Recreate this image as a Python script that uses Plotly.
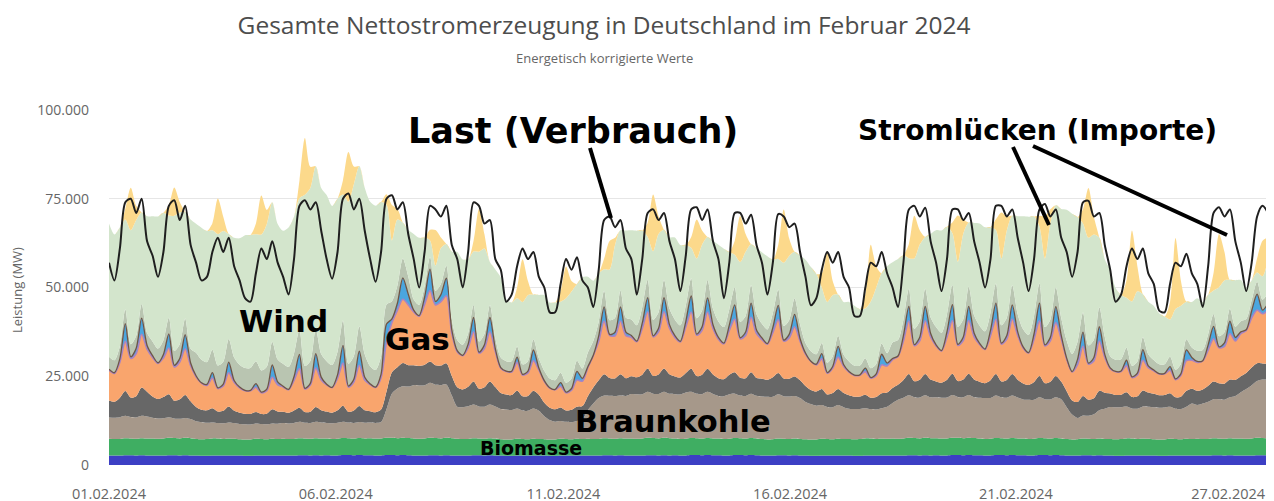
import plotly.graph_objects as go
import pandas as pd

# ---------------- data (MW, 3-hourly from 01.02.2024 00:00) ----------------
start_time = "2024-02-01 00:00"
step = "3h"

laufwasser = [
    2700, 2650, 2650, 2750, 2750, 2700, 2750, 2700,
    2700, 2650, 2650, 2750, 2750, 2700, 2750, 2700,
    2650, 2600, 2600, 2700, 2700, 2650, 2700, 2650,
    2650, 2600, 2600, 2700, 2700, 2650, 2700, 2650,
    2700, 2650, 2650, 2750, 2750, 2700, 2750, 2700,
    2750, 2700, 2700, 2800, 2800, 2750, 2800, 2750,
    2750, 2700, 2700, 2800, 2800, 2750, 2800, 2750,
    2700, 2650, 2650, 2750, 2750, 2700, 2750, 2700,
    2700, 2650, 2650, 2750, 2750, 2700, 2750, 2700,
    2650, 2600, 2600, 2700, 2700, 2650, 2700, 2650,
    2650, 2600, 2600, 2700, 2700, 2650, 2700, 2650,
    2700, 2650, 2650, 2750, 2750, 2700, 2750, 2700,
    2700, 2650, 2650, 2750, 2750, 2700, 2750, 2700,
    2750, 2700, 2700, 2800, 2800, 2750, 2800, 2750,
    2750, 2700, 2700, 2800, 2800, 2750, 2800, 2750,
    2700, 2650, 2650, 2750, 2750, 2700, 2750, 2700,
    2650, 2600, 2600, 2700, 2700, 2650, 2700, 2650,
    2650, 2600, 2600, 2700, 2700, 2650, 2700, 2650,
    2700, 2650, 2650, 2750, 2750, 2700, 2750, 2700,
    2750, 2700, 2700, 2800, 2800, 2750, 2800, 2750,
    2750, 2700, 2700, 2800, 2800, 2750, 2800, 2750,
    2750, 2700, 2700, 2800, 2800, 2750, 2800, 2750,
    2700, 2650, 2650, 2750, 2750, 2700, 2750, 2700,
    2650, 2600, 2600, 2700, 2700, 2650, 2700, 2650,
    2650, 2600, 2600, 2700, 2700, 2650, 2700, 2650,
    2700, 2650, 2650, 2750, 2750, 2700, 2750, 2700,
    2700, 2650, 2650, 2750, 2750, 2700,
]

biomasse = [
    4700, 4650, 4700, 4800, 4750, 4700, 4800, 4750,
    4800, 4750, 4800, 4900, 4850, 4800, 4900, 4850,
    4700, 4650, 4700, 4800, 4750, 4700, 4800, 4750,
    4600, 4550, 4600, 4700, 4650, 4600, 4700, 4650,
    4700, 4650, 4700, 4800, 4750, 4700, 4800, 4750,
    4700, 4650, 4700, 4800, 4750, 4700, 4800, 4750,
    4800, 4750, 4800, 4900, 4850, 4800, 4900, 4850,
    4800, 4750, 4800, 4900, 4850, 4800, 4900, 4850,
    4700, 4650, 4700, 4800, 4750, 4700, 4800, 4750,
    4600, 4550, 4600, 4700, 4650, 4600, 4700, 4650,
    4600, 4550, 4600, 4700, 4650, 4600, 4700, 4650,
    4700, 4650, 4700, 4800, 4750, 4700, 4800, 4750,
    4800, 4750, 4800, 4900, 4850, 4800, 4900, 4850,
    4700, 4650, 4700, 4800, 4750, 4700, 4800, 4750,
    4700, 4650, 4700, 4800, 4750, 4700, 4800, 4750,
    4600, 4550, 4600, 4700, 4650, 4600, 4700, 4650,
    4600, 4550, 4600, 4700, 4650, 4600, 4700, 4650,
    4700, 4650, 4700, 4800, 4750, 4700, 4800, 4750,
    4800, 4750, 4800, 4900, 4850, 4800, 4900, 4850,
    4800, 4750, 4800, 4900, 4850, 4800, 4900, 4850,
    4700, 4650, 4700, 4800, 4750, 4700, 4800, 4750,
    4700, 4650, 4700, 4800, 4750, 4700, 4800, 4750,
    4600, 4550, 4600, 4700, 4650, 4600, 4700, 4650,
    4700, 4650, 4700, 4800, 4750, 4700, 4800, 4750,
    4600, 4550, 4600, 4700, 4650, 4600, 4700, 4650,
    4700, 4650, 4700, 4800, 4750, 4700, 4800, 4750,
    4800, 4750, 4800, 4900, 4850, 4800,
]

braunkohle = [
    6000, 6000, 6100, 6300, 6000, 6000, 6300, 6200,
    5800, 5700, 5700, 5800, 5500, 5500, 5600, 5400,
    5000, 4800, 4600, 4500, 4400, 4400, 4500, 4400,
    4300, 4300, 4200, 4300, 4200, 4200, 4300, 4300,
    4400, 4400, 4500, 4600, 4400, 4400, 4600, 4500,
    4400, 4400, 4500, 4600, 4400, 4400, 4500, 4400,
    4400, 4400, 4600, 8000, 12500, 14000, 14500, 14500,
    15000, 15000, 15000, 15500, 15000, 15000, 15000, 12000,
    9000, 9000, 9200, 9500, 9000, 9000, 9500, 9000,
    8500, 8500, 8300, 8500, 8000, 8000, 8500, 8000,
    6500, 5500, 5000, 5000, 4800, 4800, 5000, 5500,
    8000, 10000, 11500, 12000, 12000, 12000, 12000, 12000,
    12500, 12500, 12500, 13000, 12500, 12500, 13000, 12500,
    12500, 12500, 13000, 13000, 12500, 12500, 13000, 12500,
    12000, 12000, 12500, 12500, 12000, 12000, 12500, 12000,
    12000, 12000, 12000, 12500, 12000, 12000, 12000, 11500,
    10500, 10000, 9500, 9500, 9000, 9000, 9500, 9000,
    8500, 8500, 8500, 8500, 8300, 8300, 8500, 9000,
    10000, 11000, 11500, 12000, 11500, 11500, 12000, 11500,
    11500, 11500, 11500, 12000, 11500, 11500, 12000, 11500,
    11500, 11500, 11500, 12000, 11500, 11500, 12000, 11500,
    11000, 11000, 11000, 11500, 11000, 11000, 11500, 11000,
    9000, 7000, 6000, 6500, 6500, 7000, 8000, 8500,
    9000, 9000, 9000, 9000, 8500, 8500, 9000, 9000,
    9000, 9000, 9000, 9000, 8500, 8500, 9000, 10000,
    9500, 10000, 10500, 11000, 11000, 11000, 11500, 12000,
    13000, 14000, 15000, 16000, 16500, 16500,
]

steinkohle = [
    4800, 4500, 5500, 7000, 5500, 6000, 8000, 7000,
    6000, 5500, 6000, 6500, 5000, 5500, 6500, 5000,
    4000, 3500, 3500, 4000, 3200, 3500, 4500, 3500,
    3200, 3000, 3000, 3200, 2800, 3000, 4000, 3500,
    3200, 3000, 3500, 4000, 3000, 3200, 4200, 3500,
    3200, 3000, 3500, 4500, 3000, 3500, 4500, 3500,
    3200, 3000, 3500, 5000, 6000, 6000, 6500, 6000,
    5600, 5500, 5800, 6000, 5500, 5500, 6000, 5500,
    5500, 5000, 5500, 6500, 5000, 5500, 6500, 5500,
    4500, 4200, 4200, 5000, 4000, 4200, 5000, 4500,
    3800, 3500, 3500, 3800, 3200, 3500, 4000, 3800,
    4000, 4500, 5000, 6000, 5000, 5000, 6000, 5000,
    5000, 4800, 5500, 6500, 5000, 5500, 6500, 5500,
    5000, 4800, 5500, 6500, 5000, 5500, 6500, 5500,
    5000, 4800, 5500, 6000, 5000, 5000, 6000, 5000,
    5000, 4800, 5500, 6000, 5000, 5000, 5500, 5000,
    4500, 4000, 4000, 4500, 3500, 4000, 4500, 4000,
    3800, 3500, 3500, 3800, 3200, 3500, 4200, 4000,
    4200, 4200, 5000, 6000, 4500, 5000, 6000, 5000,
    4500, 4200, 5000, 6000, 4500, 5000, 6000, 5000,
    4500, 4200, 5000, 6000, 4500, 5000, 6000, 5000,
    4500, 4200, 5000, 6000, 4500, 5000, 6000, 5000,
    4500, 4000, 4500, 5500, 4500, 4500, 5500, 4500,
    3800, 3500, 3500, 4000, 3200, 3500, 4500, 4000,
    3800, 3500, 3500, 3800, 3200, 3500, 4500, 4200,
    4000, 4000, 4500, 5000, 4500, 4500, 5000, 4500,
    4500, 4500, 5000, 5000, 4500, 4500,
]

erdgas = [
    8500, 8000, 10000, 14000, 11000, 12000, 15000, 12000,
    11000, 10000, 11000, 13000, 9500, 10500, 13000, 10000,
    8500, 7500, 7000, 8500, 6500, 7000, 9500, 8000,
    7000, 6500, 6500, 7000, 6000, 6500, 9000, 7500,
    7000, 6500, 8500, 11000, 6500, 7500, 11000, 8500,
    7500, 7000, 9000, 12000, 7000, 8000, 11500, 8500,
    7500, 7000, 9000, 14000, 14000, 16000, 18000, 17000,
    15000, 14000, 17000, 20000, 17000, 18000, 19000, 12000,
    10000, 9500, 11000, 14000, 10000, 11000, 14000, 10000,
    7000, 6500, 6500, 8000, 6000, 6500, 8500, 7000,
    6000, 5500, 5500, 6000, 5000, 5500, 7500, 7000,
    8000, 9000, 11000, 15000, 12000, 12000, 15000, 12000,
    11000, 10000, 13000, 16000, 11000, 12000, 16000, 13000,
    11000, 10000, 13000, 16000, 11500, 12500, 16000, 13000,
    11000, 10000, 12500, 15000, 11000, 12000, 15500, 12500,
    11000, 10000, 12500, 15000, 10500, 11500, 14000, 11000,
    9000, 8000, 7500, 8500, 6000, 7000, 9000, 7500,
    6500, 6000, 6000, 6500, 5500, 6000, 8000, 7500,
    8000, 8000, 11000, 15000, 10000, 11000, 15000, 12000,
    10000, 9000, 12000, 15000, 10000, 11000, 15000, 12000,
    10500, 9500, 12500, 15500, 10500, 11500, 15500, 12500,
    10000, 9000, 12000, 15500, 10500, 11500, 15000, 12000,
    9000, 8000, 10500, 14000, 10000, 10500, 14000, 10000,
    7000, 6500, 6500, 7500, 5500, 6000, 8500, 7000,
    6500, 6000, 6000, 6500, 5000, 6000, 8500, 8000,
    8000, 8000, 10000, 12000, 10000, 10500, 13000, 11000,
    12000, 12000, 14000, 15000, 14000, 15000,
]

pumpspeicher = [
    300, 200, 1000, 5000, 500, 1500, 4500, 1000,
    500, 200, 1000, 4000, 500, 1000, 4000, 800,
    300, 100, 300, 1500, 200, 500, 3000, 500,
    200, 100, 100, 1000, 200, 400, 3500, 800,
    200, 100, 1000, 4000, 200, 500, 4000, 800,
    200, 100, 1000, 5000, 300, 800, 4000, 800,
    200, 100, 1000, 5000, 1000, 2000, 6000, 3000,
    500, 200, 2000, 6000, 1000, 2000, 5000, 1000,
    300, 100, 1000, 4000, 300, 1000, 4000, 800,
    200, 100, 200, 1500, 200, 500, 3000, 500,
    200, 100, 100, 1000, 200, 500, 2500, 800,
    300, 100, 1500, 4000, 300, 1000, 4000, 1000,
    500, 200, 1500, 4000, 300, 1000, 4000, 1000,
    500, 200, 1500, 4500, 300, 1000, 4000, 1000,
    500, 200, 1500, 4000, 300, 1000, 4000, 1000,
    500, 200, 1500, 4000, 300, 1000, 3500, 800,
    300, 100, 200, 1500, 200, 500, 3000, 500,
    200, 100, 100, 1000, 200, 500, 3000, 800,
    300, 100, 1500, 4000, 300, 1000, 4000, 1000,
    300, 100, 1500, 4500, 300, 1000, 4000, 1000,
    300, 100, 1500, 4500, 300, 1000, 4000, 1000,
    300, 100, 1500, 5000, 300, 1000, 4500, 1000,
    300, 100, 1500, 4000, 300, 1000, 4000, 800,
    200, 100, 200, 1500, 200, 500, 3000, 500,
    200, 100, 100, 1000, 200, 500, 3000, 800,
    300, 100, 1500, 3500, 300, 1000, 3500, 1000,
    500, 200, 2000, 4500, 1000, 2000,
]

wind_offshore = [
    3500, 3500, 3500, 4000, 3500, 3500, 4000, 3500,
    4000, 4000, 4000, 4500, 4000, 4000, 4500, 4000,
    6500, 6500, 6300, 6500, 6300, 6300, 6500, 6500,
    6300, 6300, 6300, 6300, 6100, 6300, 6500, 6300,
    6300, 6300, 6500, 7000, 6300, 6300, 7000, 6500,
    6500, 6300, 6500, 7000, 6300, 6500, 7000, 6500,
    5000, 4800, 5000, 5500, 5000, 5000, 5500, 5000,
    3000, 3000, 3000, 3500, 3000, 3000, 3500, 3000,
    3000, 3000, 3000, 3500, 3000, 3000, 3500, 3000,
    2800, 2800, 2800, 3000, 2800, 2800, 3000, 2800,
    2800, 2600, 2600, 2800, 2600, 2800, 3000, 2800,
    4000, 4000, 4000, 4500, 4000, 4000, 4500, 4000,
    4500, 4500, 4500, 5000, 4500, 4500, 5000, 4500,
    4500, 4500, 4500, 5000, 4500, 4500, 5000, 4500,
    4500, 4500, 4500, 5000, 4500, 4500, 5000, 4500,
    4000, 4000, 4000, 4500, 4000, 4000, 4500, 4000,
    2800, 2800, 2800, 3000, 2800, 2800, 3000, 2800,
    2800, 2600, 2600, 2800, 2600, 2800, 3000, 2800,
    4500, 4500, 4500, 5000, 4500, 4500, 5000, 4500,
    5000, 5000, 5000, 5500, 5000, 5000, 5500, 5000,
    5000, 5000, 5000, 5500, 5000, 5000, 5500, 5000,
    5000, 5000, 5000, 5500, 5000, 5000, 5500, 5000,
    5000, 5000, 5000, 5500, 5000, 5000, 5500, 5000,
    3300, 3300, 3300, 3500, 3100, 3300, 3500, 3300,
    2800, 2600, 2600, 2800, 2600, 2800, 3000, 2800,
    3000, 3000, 3000, 3500, 3000, 3000, 3500, 3000,
    3000, 3000, 3000, 3500, 3000, 3000,
]

wind_onshore = [
    37500, 35400, 33500, 25300, 32100, 32600, 25800, 32900,
    35300, 37200, 35900, 28800, 38100, 37100, 30000, 36400,
    36300, 37200, 36900, 33600, 37000, 36900, 29600, 33700,
    35600, 37400, 37500, 35800, 38300, 40200, 39300, 38200,
    37500, 39300, 38600, 37000, 48200, 48700, 45800, 46800,
    46800, 44800, 43100, 35500, 45600, 48400, 45100, 46900,
    46300, 46300, 43500, 28100, 17100, 18600, 10100, 13100,
    18500, 18900, 13800, 4600, 7100, 10100, 6100, 19100,
    24800, 24000, 20900, 15100, 25300, 24100, 12100, 19300,
    22600, 17500, 16600, 13600, 17600, 18600, 12600, 17800,
    21300, 21400, 21900, 20000, 23800, 24500, 21600, 25700,
    21300, 17000, 13600, 6100, 14300, 20600, 17100, 24600,
    25100, 26600, 21600, 12100, 19300, 22100, 14100, 20100,
    23100, 22600, 17100, 8600, 16800, 18600, 12100, 19100,
    21600, 22100, 16100, 9100, 16800, 18100, 11600, 18600,
    20100, 20600, 15100, 8600, 17800, 18100, 13100, 19300,
    23500, 23700, 22600, 15600, 17100, 17300, 11600, 14800,
    16800, 16900, 15900, 14000, 18800, 21500, 19900, 24500,
    22600, 22800, 18100, 8600, 19800, 21600, 14600, 23600,
    27300, 28800, 24600, 14600, 18300, 24100, 18100, 26100,
    28800, 29300, 24100, 15100, 18800, 24600, 19600, 27600,
    31800, 33300, 28100, 16100, 19300, 27100, 23100, 30600,
    36800, 39500, 35100, 25100, 30300, 29600, 19600, 21800,
    24300, 20200, 18100, 14100, 18100, 19800, 12100, 14800,
    15300, 14400, 13400, 10500, 17100, 16300, 10600, 12800,
    14800, 13500, 11100, 6600, 13800, 14600, 8100, 13100,
    11600, 8900, 5600, 2600, 6600, 9600,
]

solar = [
    0, 0, 0, 3000, 12000, 4000, 0, 0,
    0, 0, 0, 3000, 8000, 3000, 0, 0,
    0, 0, 0, 2000, 10000, 4000, 0, 0,
    0, 0, 0, 3000, 11000, 4000, 0, 0,
    0, 0, 0, 5000, 16000, 6000, 0, 0,
    0, 0, 0, 4000, 14000, 5000, 0, 0,
    0, 0, 0, 3000, 10000, 3000, 0, 0,
    0, 0, 0, 3000, 10000, 3000, 0, 0,
    0, 0, 0, 3000, 12000, 4000, 0, 0,
    0, 0, 0, 3000, 12000, 4000, 0, 0,
    0, 0, 0, 3000, 9000, 3000, 0, 0,
    0, 0, 0, 3000, 8000, 2000, 0, 0,
    0, 0, 0, 4000, 16000, 5000, 0, 0,
    0, 0, 0, 3000, 11000, 4000, 0, 0,
    0, 0, 0, 4000, 13000, 5000, 0, 0,
    0, 0, 0, 4000, 15000, 5000, 0, 0,
    0, 0, 0, 4000, 14000, 4000, 0, 0,
    0, 0, 0, 4000, 16000, 6000, 0, 0,
    0, 0, 0, 4000, 12000, 4000, 0, 0,
    0, 0, 0, 3000, 13000, 4000, 0, 0,
    0, 0, 0, 3000, 13000, 4000, 0, 0,
    0, 0, 0, 3000, 12000, 4000, 0, 0,
    0, 0, 0, 4000, 14000, 5000, 0, 0,
    0, 0, 0, 5000, 20000, 7000, 0, 0,
    0, 0, 0, 5000, 20000, 7000, 0, 0,
    0, 0, 0, 5000, 15000, 8000, 0, 0,
    0, 0, 0, 4000, 10000, 6000,
]

last = [
    57000, 52000, 61000, 74000, 75000, 71000, 75000, 63000,
    59000, 53000, 60000, 73000, 74600, 69000, 73000, 62000,
    57000, 52000, 53000, 60000, 64000, 60000, 64000, 56000,
    52000, 47000, 46000, 54000, 61000, 58000, 63000, 57000,
    53000, 48000, 58000, 73000, 74600, 72000, 74000, 66000,
    58000, 52500, 60000, 75000, 76500, 72000, 75000, 66000,
    58000, 51600, 60000, 75000, 76000, 72000, 74000, 65000,
    58000, 50000, 60000, 73000, 72000, 70000, 73000, 62000,
    58000, 50000, 60000, 74000, 73000, 68000, 69000, 58000,
    55000, 46000, 48000, 56000, 61000, 58000, 60000, 53000,
    50000, 43000, 43000, 51000, 58000, 55000, 58500, 52000,
    50000, 44500, 55000, 69000, 70000, 67000, 69000, 61000,
    58000, 48000, 58000, 71000, 72000, 69000, 71000, 63000,
    58000, 49000, 59000, 72000, 72600, 69000, 72000, 63000,
    58000, 47000, 57000, 71000, 71000, 68000, 70500, 62000,
    57000, 48000, 57000, 70700, 70000, 67000, 68000, 60000,
    53000, 45000, 47000, 55000, 60000, 57000, 60000, 53000,
    50000, 42000, 42000, 50000, 57000, 56000, 60000, 54000,
    50000, 44500, 57000, 72000, 73000, 70000, 72500, 63000,
    57000, 49000, 58000, 72000, 72000, 69000, 71000, 63000,
    57000, 50000, 58000, 73000, 73000, 70000, 72000, 64000,
    57000, 49000, 58000, 72000, 73500, 70000, 72000, 64000,
    60000, 53000, 60000, 74000, 74400, 70000, 71000, 62000,
    55000, 46000, 48000, 56000, 61000, 58000, 61000, 54000,
    51000, 43500, 43000, 51000, 57000, 56000, 59500, 54000,
    51000, 44500, 56000, 71000, 72600, 70000, 72000, 63000,
    57000, 49000, 57000, 70000, 73000, 71000,
]

x_tick_text = ["01.02.2024", "06.02.2024", "11.02.2024",
               "16.02.2024", "21.02.2024", "27.02.2024"]
x_tick_vals = ["2024-02-01 00:00", "2024-02-06 05:00", "2024-02-11 10:30",
               "2024-02-16 15:30", "2024-02-21 20:00", "2024-02-26 17:00"]
y_tick_vals = [0, 25000, 50000, 75000, 100000]

# ---------------- figure ----------------
times = pd.date_range(start_time, periods=len(last), freq=step)

layers = [
    ("Laufwasser", laufwasser, "#3c3fc4", None),
    ("Biomasse", biomasse, "#3fae62", None),
    ("Braunkohle", braunkohle, "#a6988a", None),
    ("Steinkohle", steinkohle, "#676767", None),
    ("Erdgas", erdgas, "#f9a56d", ("#a884c4", 1.6)),
    ("Pumpspeicher", pumpspeicher, "#4ba6df", ("#6e5446", 1.3)),
    ("Wind Offshore", wind_offshore, "#b9c5b1", None),
    ("Wind Onshore", wind_onshore, "#d3e5cc", None),
    ("Solar", solar, "#fcd98b", None),
]

fig = go.Figure()
for name, vals, color, edge in layers:
    if edge is None:
        line = dict(width=0, shape="spline", smoothing=0.8, color=color)
    else:
        line = dict(width=edge[1], shape="spline", smoothing=0.8, color=edge[0])
    fig.add_trace(go.Scatter(
        x=times, y=vals, name=name, mode="lines", stackgroup="erzeugung",
        line=line, fillcolor=color, hoverinfo="skip", showlegend=False,
    ))

fig.add_trace(go.Scatter(
    x=times, y=last, name="Last", mode="lines",
    line=dict(color="#1f1f1f", width=2, shape="spline", smoothing=0.8),
    showlegend=False, hoverinfo="skip",
))

# The page body has an 8px margin; the figure is sized so the plot area sits
# at page pixels x 109..1268, y 110..465.
PAGE_OFF = 8
FIG_W, FIG_H = 1274 - PAGE_OFF, 501 - PAGE_OFF
PL, PR, PT, PB = 109, 1268, 110, 465
W_PLOT = PR - PL
H_PLOT = PB - PT


def px(xp):
    return (xp - PL) / W_PLOT


def py(yp):
    return (PB - yp) / H_PLOT


bold = "DejaVu Sans"
annotations = [
    dict(text="<b>Last (Verbrauch)</b>", x=px(573), y=py(131), size=35),
    dict(text="<b>Stromlücken (Importe)</b>", x=px(1037), y=py(130), size=28),
    dict(text="<b>Wind</b>", x=px(283), y=py(321), size=31),
    dict(text="<b>Gas</b>", x=px(417), y=py(339), size=31),
    dict(text="<b>Braunkohle</b>", x=px(673), y=py(421), size=30.5),
    dict(text="<b>Biomasse</b>", x=px(531), y=py(448), size=19),
]
ann_list = []
for a in annotations:
    ann_list.append(dict(
        text=a["text"], x=a["x"], y=a["y"], xref="paper", yref="paper",
        xanchor="center", yanchor="middle", showarrow=False,
        font=dict(family=bold, size=a["size"], color="black"),
    ))
ann_list.append(dict(
    text="Energetisch korrigierte Werte", x=px(604), y=py(58),
    xref="paper", yref="paper", xanchor="center", yanchor="middle",
    showarrow=False, font=dict(family="Open Sans", size=13, color="#666666"),
))
ann_list.append(dict(
    text="Leistung (MW)", x=px(17), y=py(290), xref="paper", yref="paper",
    xanchor="center", yanchor="middle", textangle=-90, showarrow=False,
    font=dict(family="Open Sans", size=13, color="#666666"),
))

pointer_lines = [
    ((590, 148), (611, 218)),
    ((1013, 147), (1049, 225)),
    ((1033, 146), (1227, 235)),
]
shapes = []
for (x0, y0), (x1, y1) in pointer_lines:
    shapes.append(dict(type="line", xref="paper", yref="paper",
                       x0=px(x0), y0=py(y0), x1=px(x1), y1=py(y1),
                       line=dict(color="black", width=4)))

fig.update_layout(
    width=FIG_W, height=FIG_H,
    margin=dict(l=PL - PAGE_OFF, r=1274 - PR, t=PT - PAGE_OFF, b=501 - PB,
                autoexpand=False),
    paper_bgcolor="white", plot_bgcolor="white",
    separators=",.",
    font=dict(family="Open Sans", color="#666666"),
    title=dict(text="Gesamte Nettostromerzeugung in Deutschland im Februar 2024",
               x=(604 - PAGE_OFF) / FIG_W, xanchor="center", xref="container",
               y=1 - (25 - PAGE_OFF) / FIG_H, yanchor="middle", yref="container",
               automargin=False,
               font=dict(family="Open Sans", size=24.5, color="#4d4d4d")),
    xaxis=dict(type="date", range=[times[0], times[-1]],
               tickvals=x_tick_vals, ticktext=x_tick_text, automargin=False,
               showgrid=False, zeroline=False, showline=False, ticks="",
               tickfont=dict(family="Open Sans", size=14.5, color="#666666"),
               ticklabelstandoff=18),
    yaxis=dict(range=[0, 100000], tickvals=y_tick_vals, tickformat=",d",
               automargin=False,
               showgrid=True, gridcolor="#e6e6e6", gridwidth=1,
               zeroline=False, showline=False, ticks="",
               tickfont=dict(family="Open Sans", size=14, color="#666666"),
               ticklabelstandoff=19),
    annotations=ann_list,
    shapes=shapes,
)

fig.write_html("out.html")
